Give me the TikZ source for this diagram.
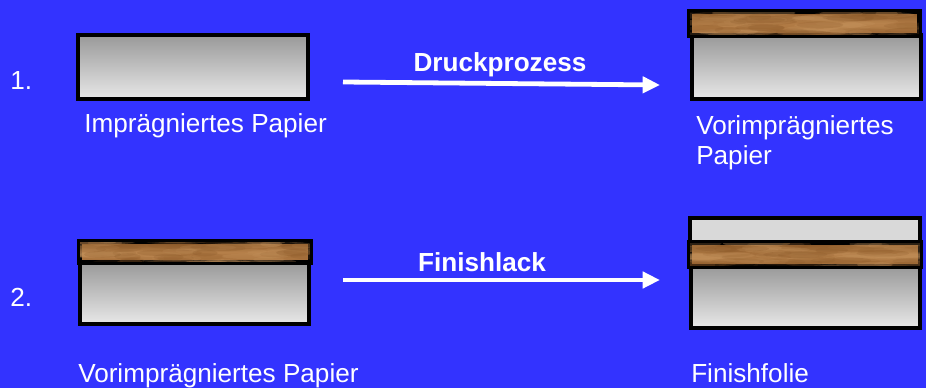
\documentclass[tikz,border=0pt]{standalone}
\usepackage{fontspec}
\setmainfont{Liberation Sans}
\usetikzlibrary{arrows.meta,fit,calc}
\definecolor{bgblue}{RGB}{51,51,255}
\definecolor{papertop}{RGB}{153,153,153}
\definecolor{paperbot}{RGB}{232,232,232}
\definecolor{filmgray}{RGB}{217,217,217}
\definecolor{woodbase}{RGB}{164,110,58}
\definecolor{woodmid}{RGB}{178,124,70}
\definecolor{wooddark}{RGB}{138,88,40}
\definecolor{woodlight}{RGB}{196,146,92}
\tikzset{
  lbl/.style={text=white, inner sep=0pt, font=\fontsize{19.6}{22.5}\selectfont},
  blbl/.style={lbl, font=\fontsize{19.6}{22.5}\selectfont\bfseries},
  layer/.style={draw=black, line width=2.4pt, inner sep=0pt},
  paper/.style={layer, top color=papertop, bottom color=paperbot},
  film/.style={layer, fill=filmgray},
  wood/.style={layer, top color=wooddark, bottom color=woodbase, middle color=woodmid},
  procarrow/.style={draw=white, line width=3.6pt, -{Triangle[length=13pt,width=12pt]}},
}
\newcommand\woodgrain[2]{%
  \begin{scope}
    \clip (#1.south west) rectangle (#1.north east);
    \pgfmathsetseed{#2}
    \foreach \k in {1,...,45}{
      \pgfmathsetmacro\fx{rnd}\pgfmathsetmacro\fy{rnd}
      \pgfmathsetmacro\lw{8+24*rnd}\pgfmathsetmacro\op{0.12+0.25*rnd}
      \fill[woodlight, opacity=\op] ($(#1.south west)!\fx!(#1.south east)+(0,-\fy*24)$) ellipse [x radius=\lw pt, y radius=2.2pt];
    }
    \foreach \k in {1,...,30}{
      \pgfmathsetmacro\fx{rnd}\pgfmathsetmacro\fy{rnd}
      \pgfmathsetmacro\lw{8+20*rnd}\pgfmathsetmacro\op{0.1+0.2*rnd}
      \fill[wooddark, opacity=\op] ($(#1.south west)!\fx!(#1.south east)+(0,-\fy*24)$) ellipse [x radius=\lw pt, y radius=2.5pt];
    }
  \end{scope}
  \draw[black, line width=2.4pt] (#1.south west) rectangle (#1.north east);
}
\begin{document}
\begin{tikzpicture}[x=0.75pt, y=-0.75pt]
  \fill[bgblue] (0,0) rectangle (926,388);
  \useasboundingbox (0,0) rectangle (926,388);

  % row 1
  \node[lbl, anchor=base west] (n1) at (10,90) {1.};
  \node[paper, fit={(78,35) (308,99)}] (b1) {};
  \node[lbl, anchor=base west] (l1) at (84,133) {Imprägniertes Papier};

  \node[paper, fit={(692,35) (921,99)}] (b2p) {};
  \node[wood, fit={(690,12) (919,35)}] (b2w) {};
  \woodgrain{b2w}{11}
  \node[lbl, anchor=base west] (l2a) at (696,135) {Vorimprägniertes};
  \node[lbl, anchor=base west] (l2b) at (696,165) {Papier};

  \coordinate (a1s) at (343,82);
  \coordinate (a1e) at (660,85);
  \draw[procarrow] (a1s) -- (a1e);
  \node[blbl, anchor=base] (t1) at (500,72) {Druckprozess};

  % row 2
  \node[lbl, anchor=base west] (n2) at (10,307) {2.};
  \node[paper, fit={(80,262) (309,324)}] (b3p) {};
  \node[wood, fit={(80,242) (310,262)}] (b3w) {};
  \woodgrain{b3w}{23}
  \node[lbl, anchor=base west] (l3) at (78,383) {Vorimprägniertes Papier};

  \node[paper, fit={(691,266) (920,328)}] (b4p) {};
  \node[film, fit={(690,218) (920,243)}] (b4f) {};
  \node[wood, fit={(690,243) (920,266)}] (b4w) {};
  \woodgrain{b4w}{37}
  \node[lbl, anchor=base west] (l4) at (691,383) {Finishfolie};

  \coordinate (a2s) at (343,280);
  \coordinate (a2e) at (660,280);
  \draw[procarrow] (a2s) -- (a2e);
  \node[blbl, anchor=base] (t2) at (482,272) {Finishlack};
\end{tikzpicture}
\end{document}
